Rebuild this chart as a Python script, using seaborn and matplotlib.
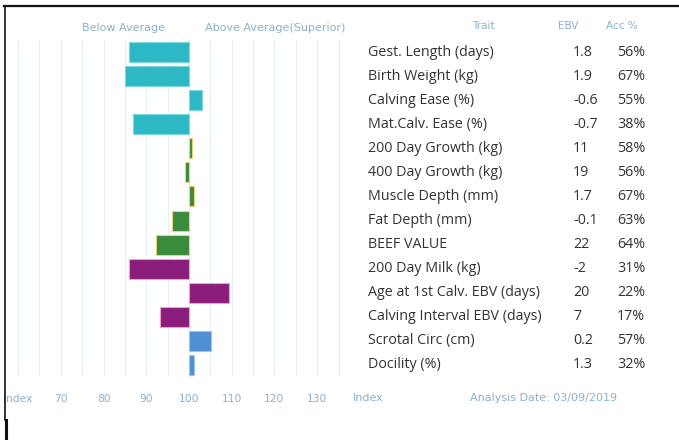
import matplotlib
matplotlib.use('Agg')
import matplotlib.pyplot as plt
import matplotlib.transforms as mtrans
import matplotlib.lines as mlines
import seaborn as sns
import pandas as pd

traits = ['Gest. Length (days)', 'Birth Weight (kg)', 'Calving Ease (%)', 'Mat.Calv. Ease (%)',
          '200 Day Growth (kg)', '400 Day Growth (kg)', 'Muscle Depth (mm)', 'Fat Depth (mm)',
          'BEEF VALUE', '200 Day Milk (kg)', 'Age at 1st Calv. EBV (days)',
          'Calving Interval EBV (days)', 'Scrotal Circ (cm)', 'Docility (%)']
ebv = ['1.8', '1.9', '-0.6', '-0.7', '11', '19', '1.7', '-0.1', '22', '-2', '20', '7', '0.2', '1.3']
acc = ['56%', '67%', '55%', '38%', '58%', '56%', '67%', '63%', '64%', '31%', '22%', '17%', '57%', '32%']
index_values = [86.0, 85.0, 103.1, 87.0, 100.8, 99.1, 101.2, 96.1, 92.2, 86.0, 109.3, 93.1, 105.1, 101.2]
groups = ['calving'] * 4 + ['growth'] * 5 + ['maternal'] * 3 + ['fertility'] * 2
tick_values = [60, 70, 80, 90, 100, 110, 120, 130]
tick_labels = ['Index', '70', '80', '90', '100', '110', '120', '130']

group_colors = {'calving': '#2cb9c5', 'growth': '#3a8b3c', 'maternal': '#8a1d7c', 'fertility': '#4f90d4'}
group_edges = {'calving': '#7fd8df', 'growth': '#e8d27a', 'maternal': '#f0a0c8', 'fertility': '#9cc4ee'}

df = pd.DataFrame({'trait': traits, 'index': index_values, 'group': groups})
df['dev'] = df['index'] - 100

W, H = 679, 440
fig = plt.figure(figsize=(W / 100, H / 100), dpi=100)
ax = fig.add_axes([16 / W, 1 - 377 / H, (362 - 16) / W, 337 / H])

sns.barplot(data=df, x='dev', y='trait', hue='trait',
            palette=[group_colors[g] for g in groups], orient='h', saturation=1,
            width=0.83, legend=False, ax=ax, linewidth=0.8)
for p, g in zip(ax.patches, groups):
    p.set_edgecolor(group_edges[g])

ax.set_xlim(-40.5, 40.5)
ax.set_ylim(13.5, -0.5)
ax.set_xticks([v - 100 for v in range(60, 140, 5)], minor=True)
ax.set_xticks([v - 100 for v in tick_values])
ax.set_xticklabels(tick_labels)
ax.grid(True, which='both', axis='x', color='#e6f0fa', linewidth=0.8)
ax.set_axisbelow(True)
for s in ax.spines.values():
    s.set_visible(False)
ax.tick_params(axis='x', which='both', length=0, pad=12, labelsize=7.7, labelcolor='#8cb0c8')
ax.tick_params(axis='y', length=0, labelleft=False)
ax.set_xlabel('')
ax.set_ylabel('')

lab_color = '#8cb0c8'
fig.text(124 / W, 1 - 28 / H, 'Below Average', ha='center', va='center', size=8, color=lab_color)
fig.text(275 / W, 1 - 28 / H, 'Above Average(Superior)', ha='center', va='center', size=8, color=lab_color)
fig.text(483 / W, 1 - 26 / H, 'Trait', ha='center', va='center', size=7.5, color=lab_color)
fig.text(568 / W, 1 - 26 / H, 'EBV', ha='center', va='center', size=7.5, color=lab_color)
fig.text(622 / W, 1 - 26 / H, 'Acc %', ha='center', va='center', size=7.5, color=lab_color)
fig.text(353 / W, 1 - 398 / H, 'Index', ha='left', va='center', size=8, color=lab_color)
fig.text(470 / W, 1 - 398 / H, 'Analysis Date: 03/09/2019', ha='left', va='center', size=8, color=lab_color)

trans = mtrans.blended_transform_factory(fig.transFigure, ax.transData)
for i, (t, e, a) in enumerate(zip(traits, ebv, acc)):
    ax.text(368 / W, i, t, transform=trans, ha='left', va='center', size=10.3,
            color='#333333', family='Open Sans', clip_on=False)
    ax.text(573 / W, i, e, transform=trans, ha='left', va='center', size=10.3,
            color='#333333', family='Open Sans', clip_on=False)
    ax.text(617 / W, i, a, transform=trans, ha='left', va='center', size=10.3,
            color='#333333', family='Open Sans', clip_on=False)

# frame lines of the screenshot
fig.add_artist(mlines.Line2D([4 / W, 1], [1 - 6 / H, 1 - 6 / H], color='#111111', linewidth=1.6))
fig.add_artist(mlines.Line2D([4.5 / W, 4.5 / W], [1 - 6 / H, 1 - 420 / H], color='#111111', linewidth=1.2))
fig.add_artist(mlines.Line2D([6 / W, 6 / W], [1 - 420 / H, 0], color='#111111', linewidth=2.2))

fig.savefig('out.png', dpi=100)
